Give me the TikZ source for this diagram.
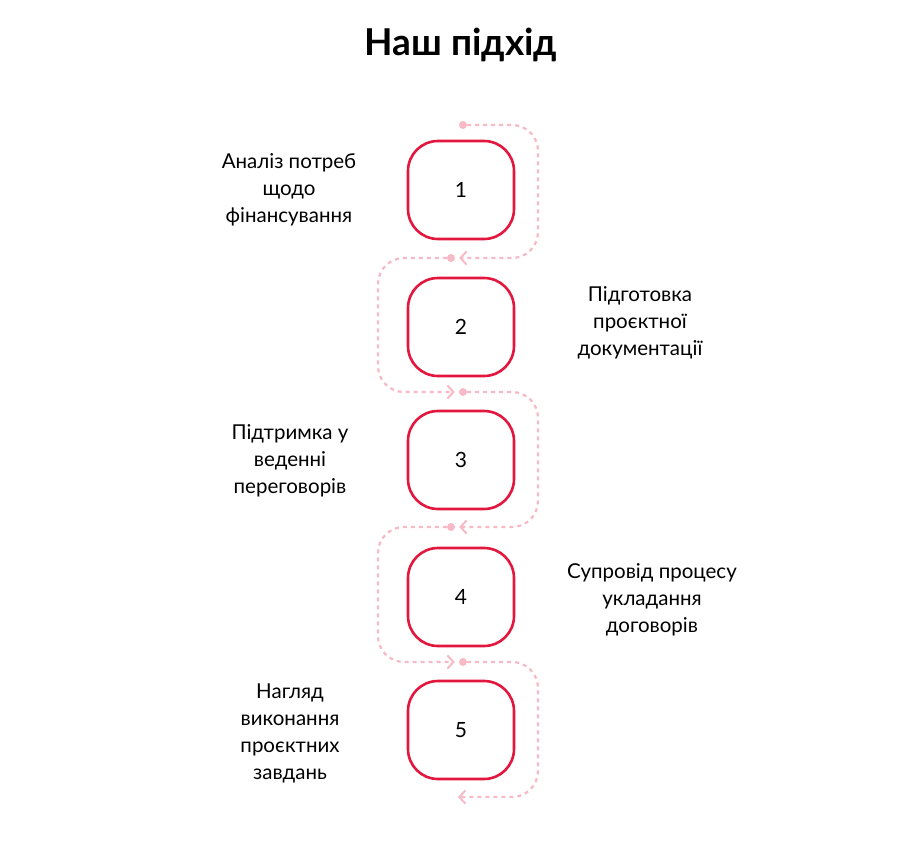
\documentclass[tikz,border=0pt]{standalone}
\usepackage{fontspec}
\setmainfont{Lato}
\usetikzlibrary{arrows.meta}
\definecolor{boxred}{HTML}{E3173E}
\definecolor{pathpink}{HTML}{F6B9C5}
\begin{document}
\begin{tikzpicture}[x=1pt,y=-1pt,
  stepbox/.style={draw=boxred,line width=2.6pt,rounded corners=30pt,minimum width=106pt,minimum height=98pt,font=\fontsize{21}{25}\selectfont},
  lbl/.style={align=center,font=\fontsize{20.5}{27}\selectfont},
  flow/.style={draw=pathpink,line width=2.2pt,dash pattern=on 4pt off 4pt,rounded corners=26pt,-{Straight Barb[length=6pt,width=13pt,line width=2pt]}},
  dotc/.style={circle,fill=pathpink,inner sep=0pt,minimum size=8pt}]
\useasboundingbox (0,0) rectangle (900,843);
\node[font=\fontsize{37}{40}\selectfont\bfseries] (title) at (461,45) {Наш підхід};
\node[stepbox] (b1) at (461,190) {1};
\node[stepbox] (b2) at (461,327) {2};
\node[stepbox] (b3) at (461,460) {3};
\node[stepbox] (b4) at (461,597) {4};
\node[stepbox] (b5) at (461,730) {5};
\node[lbl] (l1) at (289,190) {Аналіз потреб\\щодо\\фінансування};
\node[lbl] (l2) at (640,323) {Підготовка\\проєктної\\документації};
\node[lbl] (l3) at (290,461) {Підтримка у\\веденні\\переговорів};
\node[lbl] (l4) at (652,600) {Супровід процесу\\укладання\\договорів};
\node[lbl] (l5) at (290,733) {Нагляд\\виконання\\проєктних\\завдань};
\node[dotc] (d1) at (463,125) {};
\node[dotc] (d2) at (451,258) {};
\node[dotc] (d3) at (463,392) {};
\node[dotc] (d4) at (451,527) {};
\node[dotc] (d5) at (463,662) {};
\coordinate (e5) at (458,797);
\draw[flow] (d1) -- (538,125) -- (538,258) -- ([xshift=4pt]d2.east);
\draw[flow] (d2) -- (378,258) -- (378,392) -- ([xshift=-4pt]d3.west);
\draw[flow] (d3) -- (538,392) -- (538,527) -- ([xshift=4pt]d4.east);
\draw[flow] (d4) -- (378,527) -- (378,662) -- ([xshift=-4pt]d5.west);
\draw[flow] (d5) -- (538,662) -- (538,797) -- (e5);
\end{tikzpicture}
\end{document}
